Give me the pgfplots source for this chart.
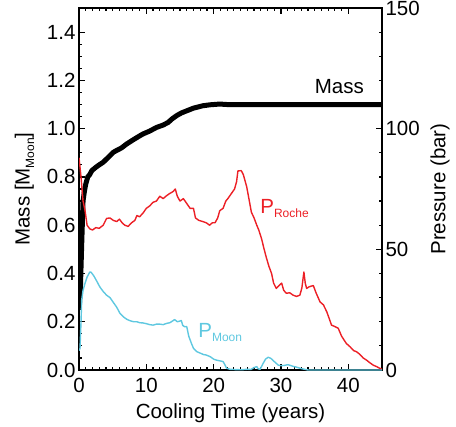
\documentclass[border=0pt]{standalone}
\usepackage{pgfplots}
\pgfplotsset{compat=1.18}
\usepackage{fontspec}
\setmainfont{Liberation Sans}
\definecolor{proche}{RGB}{236,32,38}
\definecolor{pmoon}{RGB}{95,200,224}
\newcommand{\subf}[1]{\raisebox{-0.22em}{\fontsize{12bp}{12bp}\selectfont #1}}
\pgfplotsset{
  every axis/.append style={
    font=\fontsize{20.5bp}{24bp}\selectfont,
    scale only axis, width=303bp, height=362bp,
    xmin=0, xmax=45,
    axis line style={line width=1.8bp},
    major tick length=6bp, minor tick length=3bp,
    every tick/.style={line width=1.2bp, black},
    tick label style={font=\fontsize{20.5bp}{24bp}\selectfont},
    /pgf/number format/assume math mode=true,
  }
}
\begin{document}
\begin{tikzpicture}
\begin{axis}[
  name=main,
  ymin=0, ymax=1.5,
  xtick={0,10,20,30,40}, minor x tick num=9,
  ytick={0,0.2,0.4,0.6,0.8,1.0,1.2,1.4}, minor y tick num=3,
  ytick pos=left, xtick pos=both,
  yticklabel style={/pgf/number format/.cd, fixed, fixed zerofill, precision=1},
  xticklabel style={yshift=-5bp},
  xlabel={Cooling Time (years)},
  ylabel={Mass [M\subf{Moon}]},
  xlabel style={at={(axis description cs:0.5,0)}, anchor=north, inner sep=0pt, yshift=-33bp},
  ylabel style={yshift=6bp},
]
\addplot[black, line width=5bp, line join=round] coordinates {
(0,0.25) (0.2,0.33) (0.4,0.52) (0.6,0.70) (0.8,0.74) (1.0,0.77) (1.3,0.80)
(1.6,0.81) (1.9,0.826) (2.5,0.84) (3.0,0.85) (3.6,0.861) (4.3,0.88)
(5.1,0.902) (5.6,0.91) (6.3,0.92) (7.1,0.937) (8.0,0.953) (9.0,0.97)
(9.5,0.978) (10.5,0.99) (11.5,1.005) (12.5,1.015) (13.25,1.026) (13.8,1.04)
(14.5,1.054) (15.2,1.065) (16.0,1.074) (17.0,1.085) (18.4,1.095)
(19.5,1.099) (20.9,1.102) (22,1.1) (45,1.1)
};
\node[anchor=base west, inner sep=0pt] at (axis cs:35.0,1.145) {Mass};
\end{axis}
\begin{axis}[
  ymin=0, ymax=150,
  axis x line=none, axis y line*=right,
  ytick={0,50,100,150}, minor y tick num=4,
  ytick pos=right,
  ylabel={Pressure (bar)},
  ylabel style={yshift=-4bp},
]
\addplot[proche, line width=1.4bp, line join=round] coordinates {
(0,88) (0.3,80) (0.6,70) (0.9,66) (1.2,60) (1.6,58.5) (2.0,58) (2.5,59)
(3.0,58.7) (3.6,60) (4.1,62.8) (4.6,63) (5.1,62) (5.6,61.5) (6.0,62.5)
(6.4,61) (6.8,60) (7.3,59.5) (7.8,61) (8.3,62) (8.6,64) (9.0,63.5)
(9.5,65) (10.0,67) (10.5,68) (11.0,69.5) (11.5,70) (12.0,72) (12.5,71)
(12.9,72) (13.4,73) (14.0,74) (14.3,75) (14.6,72) (15.0,70) (15.5,71)
(16.0,69) (16.5,67) (17.0,67) (17.3,63) (17.8,62) (18.4,61.5) (18.9,61)
(19.4,60) (19.8,61) (20.2,61) (20.6,63) (20.9,66) (21.4,67) (21.8,70)
(22.1,71) (22.6,73) (23.1,75) (23.4,78) (23.6,82.5) (24.1,82.6) (24.4,81)
(24.9,76) (25.3,70) (25.6,65.4) (26.0,63) (26.4,60) (26.7,58) (27.1,54.5)
(27.5,50) (27.8,46.8) (28.2,43) (28.6,40) (28.9,36) (29.3,33.8) (29.7,35)
(30.1,36) (30.4,33) (30.8,31.8) (31.3,32) (31.8,31) (32.3,30.5) (32.8,31)
(33.1,34) (33.4,40.6) (33.6,36) (33.8,33.8) (34.2,34.5) (34.8,35) (35.2,32)
(35.8,28.2) (36.3,27) (36.8,24.1) (37.2,21) (37.5,18.6) (38.0,18)
(38.5,17.3) (39.0,14) (39.7,11) (40.3,9.5) (40.8,8) (41.2,7.6) (41.7,6.5)
(42.2,5) (42.7,4.1) (43.2,3) (43.7,2) (44.2,1.4) (44.6,0.8) (45,0.3)
};
\addplot[pmoon, line width=1.4bp, line join=round] coordinates {
(0,8) (0.15,9) (0.3,20) (0.4,29) (0.6,33) (0.9,36) (1.2,38.5) (1.6,40.6)
(1.8,40.5) (2.2,39) (2.6,37) (3.1,34.4) (3.6,32.5) (4.1,31) (4.6,30)
(5.1,28) (5.6,26) (6.1,23.4) (6.6,22) (7.1,21) (7.6,20.4) (8.1,20)
(8.6,20) (9.0,19.6) (9.5,19.5) (10.0,19.2) (10.5,18.8) (11.0,18.6)
(11.5,19) (12.0,19) (12.5,18.8) (13.0,19.3) (13.5,19.6) (14.0,20.5)
(14.2,20.9) (14.6,20) (15.0,20.3) (15.2,20.5) (15.4,18.5) (15.7,17.9)
(16.0,18) (16.3,14) (16.7,11) (17.0,9) (17.5,7.6) (18.0,7) (18.5,6.4)
(18.9,6.2) (19.5,5.5) (20.0,4.5) (20.4,4.1) (20.9,3.8) (21.4,3.5)
(21.7,2) (21.9,0.8) (22.4,0.3) (23,0.2) (24,0.1) (25,0.3) (25.5,0.2)
(26.0,1) (26.4,1.4) (26.6,0.5) (26.9,0.3) (27.3,2.5) (27.7,4.5) (28.1,5.3)
(28.5,4.8) (28.8,4) (29.2,3) (29.6,2) (30.0,1.8) (30.5,1.9) (31.0,2.2)
(31.3,2) (31.8,1.5) (32.3,1.2) (33,0.6) (34,0) (45,0)
};
\node[anchor=base west, inner sep=0pt, text=proche] at (axis cs:26.9,64.9) {P\subf{Roche}};
\node[anchor=base west, inner sep=0pt, text=pmoon] at (axis cs:17.7,13.6) {P\subf{Moon}};
\end{axis}
\pgfresetboundingbox
\path[use as bounding box] ([shift={(-79bp,-57bp)}]main.south west) rectangle ([shift={(74bp,8bp)}]main.north east);
\end{tikzpicture}
\end{document}
